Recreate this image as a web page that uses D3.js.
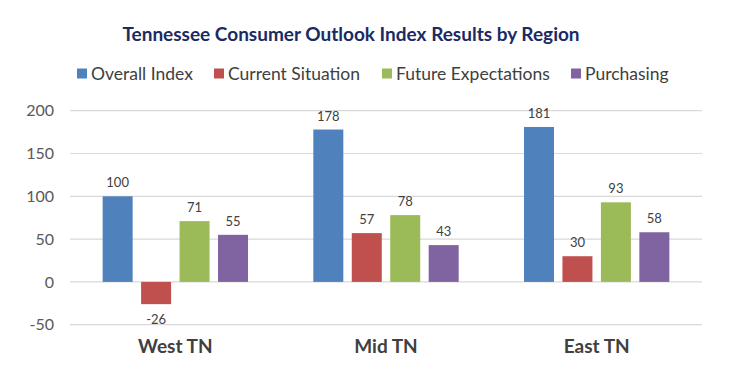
<!DOCTYPE html>
<html>
<head>
<meta charset="utf-8">
<script src="https://cdn.jsdelivr.net/npm/d3@7"></script>
<style>
  body { margin: 0; background: #fff; }
  svg { display: block; }
</style>
</head>
<body>
<div id="chart"></div>
<script>
// data
const regions = ["West TN", "Mid TN", "East TN"];
const seriesNames = ["Overall Index", "Current Situation", "Future Expectations", "Purchasing"];
const overallIndex = [100, 178, 181];
const currentSituation = [-26, 57, 30];
const futureExpectations = [71, 78, 93];
const purchasing = [55, 43, 58];
const yTicks = [-50, 0, 50, 100, 150, 200];

const colors = ["#4f81bd", "#c0504d", "#9bbb59", "#8064a2"];
const seriesValues = [overallIndex, currentSituation, futureExpectations, purchasing];

const width = 740, height = 377;
const font = "Lato, 'Open Sans', sans-serif";

const svg = d3.select("#chart")
  .append("svg")
  .attr("width", width)
  .attr("height", height);

svg.append("rect").attr("width", width).attr("height", height).attr("fill", "#fff");

// title
svg.append("text")
  .attr("x", 351)
  .attr("y", 41)
  .attr("text-anchor", "middle")
  .attr("font-family", font)
  .attr("font-weight", "bold")
  .attr("font-size", "19px")
  .attr("fill", "#1b2a63")
  .text("Tennessee Consumer Outlook Index Results by Region");

// legend
const legendX = [77, 214, 382, 571];
const legend = svg.append("g");
seriesNames.forEach((name, i) => {
  legend.append("rect")
    .attr("x", legendX[i])
    .attr("y", 68.5)
    .attr("width", 10)
    .attr("height", 10)
    .attr("fill", colors[i]);
  legend.append("text")
    .attr("x", legendX[i] + 14)
    .attr("y", 79.5)
    .attr("font-family", font)
    .attr("font-size", "17.5px")
    .attr("fill", "#404040")
    .text(name);
});

// scales
const y = d3.scaleLinear()
  .domain([-50, 200])
  .range([324.7, 110.7]);

const x0 = d3.scaleBand()
  .domain(regions)
  .range([70, 702])
  .paddingInner(0.31)
  .paddingOuter(0.155);

const x1 = d3.scaleBand()
  .domain(seriesNames)
  .range([0, x0.bandwidth()])
  .paddingInner(0.22)
  .paddingOuter(0);

// gridlines
svg.append("g")
  .selectAll("line")
  .data(yTicks)
  .enter()
  .append("line")
  .attr("x1", 70)
  .attr("x2", 702)
  .attr("y1", d => y(d))
  .attr("y2", d => y(d))
  .attr("stroke", "#d9d9d9")
  .attr("stroke-width", 1.2);

// y axis
const yAxis = svg.append("g")
  .attr("transform", "translate(54,0)")
  .call(d3.axisLeft(y).tickValues(yTicks).tickFormat(d => String(d)).tickSize(0).tickPadding(0));
yAxis.select(".domain").remove();
yAxis.selectAll("text")
  .attr("font-family", font)
  .attr("font-size", "16px")
  .attr("fill", "#595959");

// bars
const groups = svg.append("g")
  .selectAll("g")
  .data(regions)
  .enter()
  .append("g")
  .attr("transform", d => `translate(${x0(d)},0)`);

groups.each(function (region, ri) {
  const g = d3.select(this);
  seriesNames.forEach((name, si) => {
    const v = seriesValues[si][ri];
    g.append("rect")
      .attr("x", x1(name))
      .attr("width", x1.bandwidth())
      .attr("y", y(Math.max(0, v)))
      .attr("height", Math.abs(y(v) - y(0)))
      .attr("fill", colors[si]);
    g.append("text")
      .attr("x", x1(name) + x1.bandwidth() / 2)
      .attr("y", v >= 0 ? y(v) - 9 : y(v) + 20)
      .attr("text-anchor", "middle")
      .attr("font-family", font)
      .attr("font-size", "13px")
      .attr("fill", "#404040")
      .text(v);
  });
});

// x axis labels
const xAxis = svg.append("g")
  .attr("transform", "translate(0,335)")
  .call(d3.axisBottom(x0).tickSize(0).tickPadding(0));
xAxis.select(".domain").remove();
xAxis.selectAll("text")
  .attr("dy", "0")
  .attr("y", 18)
  .attr("font-family", font)
  .attr("font-weight", "bold")
  .attr("font-size", "19px")
  .attr("fill", "#404040");
</script>
</body>
</html>
